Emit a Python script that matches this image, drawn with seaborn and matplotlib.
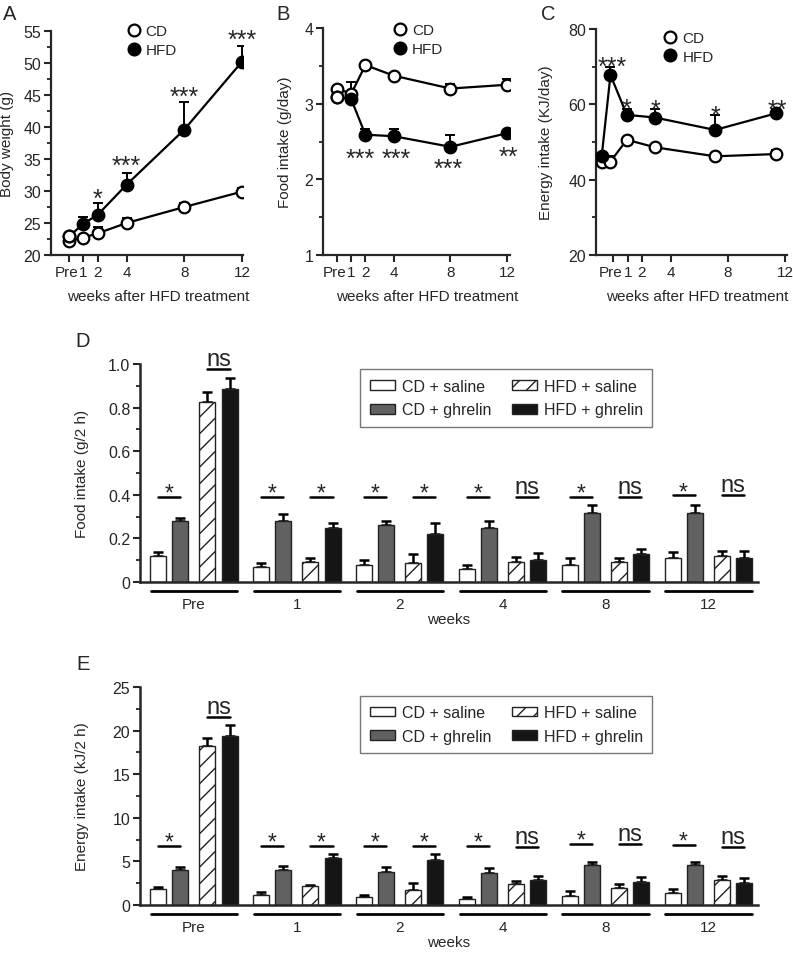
import numpy as np
import pandas as pd
import seaborn as sns
import matplotlib.pyplot as plt
import matplotlib.transforms as mtrans
from matplotlib.patches import Patch
from matplotlib.lines import Line2D

sns.set_style("ticks")
plt.rcParams["font.family"] = ["Liberation Sans", "DejaVu Sans"]

# ---------------- data: panels A-C ----------------
week_ticks = [0, 1, 2, 4, 8, 12]
week_labels = ["Pre", "1", "2", "4", "8", "12"]

# A: body weight (g)
bw_cd = [22.2, 22.7, 23.4, 25.0, 27.5, 29.9]
bw_cd_err = [0.3, 0.3, 1.0, 0.8, 0.7, 0.6]
bw_hfd = [22.9, 24.9, 26.3, 31.0, 39.6, 50.2]
bw_hfd_err = [0.3, 1.0, 1.8, 1.8, 4.3, 2.5]

# B: food intake (g/day)
fi_cd = [3.20, 3.13, 3.51, 3.37, 3.20, 3.25]
fi_cd_err = [0.03, 0.16, 0.03, 0.03, 0.06, 0.07]
fi_hfd = [3.09, 3.06, 2.59, 2.57, 2.43, 2.61]
fi_hfd_err = [0.03, 0.05, 0.08, 0.10, 0.16, 0.03]

# C: energy intake (KJ/day), points drawn slightly off the ticks in the original
ei_weeks = [-0.81, -0.2, 0.94, 2.9, 7.1, 11.35]
ei_cd = [44.6, 44.8, 50.6, 48.6, 46.2, 46.8]
ei_cd_err = [0.5, 1.5, 0.5, 0.5, 0.5, 1.2]
ei_hfd = [46.3, 67.8, 57.2, 56.5, 53.2, 57.6]
ei_hfd_err = [0.5, 2.0, 1.6, 2.3, 4.0, 1.2]

# ---------------- data: panels D-E ----------------
groups = ["Pre", "1", "2", "4", "8", "12"]
series = ["CD + saline", "CD + ghrelin", "HFD + saline", "HFD + ghrelin"]

d_cd_sal = [0.119, 0.069, 0.079, 0.061, 0.079, 0.110]
d_cd_sal_err = [0.018, 0.020, 0.020, 0.015, 0.032, 0.027]
d_cd_ghr = [0.278, 0.282, 0.260, 0.249, 0.318, 0.316]
d_cd_ghr_err = [0.015, 0.029, 0.018, 0.033, 0.033, 0.035]
d_hfd_sal = [0.824, 0.092, 0.087, 0.092, 0.092, 0.118]
d_hfd_sal_err = [0.046, 0.018, 0.040, 0.021, 0.018, 0.024]
d_hfd_ghr = [0.885, 0.247, 0.221, 0.099, 0.127, 0.110]
d_hfd_ghr_err = [0.049, 0.025, 0.049, 0.034, 0.026, 0.030]
d_sig = [["*", "ns"], ["*", "*"], ["*", "*"], ["*", "ns"], ["*", "ns"], ["*", "ns"]]
d_sig_y = [[0.389, 0.977], [0.389, 0.389], [0.389, 0.389], [0.389, 0.389], [0.389, 0.389], [0.397, 0.397]]

e_cd_sal = [1.84, 1.15, 0.96, 0.69, 1.00, 1.34]
e_cd_sal_err = [0.26, 0.38, 0.19, 0.23, 0.65, 0.54]
e_cd_ghr = [4.06, 4.06, 3.75, 3.64, 4.60, 4.60]
e_cd_ghr_err = [0.30, 0.44, 0.58, 0.57, 0.38, 0.30]
e_hfd_sal = [18.2, 2.2, 1.76, 2.37, 1.91, 2.90]
e_hfd_sal_err = [1.0, 0.1, 0.77, 0.43, 0.46, 0.47]
e_hfd_ghr = [19.4, 5.36, 5.17, 2.90, 2.68, 2.53]
e_hfd_ghr_err = [1.2, 0.50, 0.69, 0.43, 0.52, 0.57]
e_sig = d_sig
e_sig_y = [[6.74, 21.55], [6.74, 6.74], [6.74, 6.74], [6.74, 6.62], [7.0, 7.0], [6.9, 6.62]]

# ---------------- figure ----------------
W, H = 793, 954
fig = plt.figure(figsize=(W / 100, H / 100), dpi=100)


def add_ax(x0, y0, x1, y1):
    return fig.add_axes([x0 / W, 1 - y1 / H, (x1 - x0) / W, (y1 - y0) / H])


def mark(ax, x, y, s, size=18):
    # place so the glyph's visual centre lands on (x, y)
    k = 0.57 if "*" in s else 0.26
    ax.annotate(s, (x, y), xytext=(0, -k * size), textcoords="offset points",
                ha="center", va="baseline", fontsize=size, annotation_clip=False)


def line_panel(ax, xs, cd, cd_err, hfd, hfd_err, hfd_pre_open):
    z = np.zeros(len(xs))
    ax.errorbar(xs, cd, yerr=[z, cd_err], fmt="none", ecolor="black",
                elinewidth=1.4, capsize=3.5, capthick=1.4, zorder=1)
    ax.errorbar(xs, hfd, yerr=[z, hfd_err], fmt="none", ecolor="black",
                elinewidth=1.4, capsize=3.5, capthick=1.4, zorder=1)
    sns.lineplot(x=xs, y=cd, color="black", lw=1.6, ax=ax, zorder=2)
    sns.lineplot(x=xs, y=hfd, color="black", lw=1.6, ax=ax, zorder=2)
    sns.scatterplot(x=xs, y=cd, s=70, color="white", edgecolor="black",
                    linewidth=1.6, ax=ax, zorder=3)
    sns.scatterplot(x=xs, y=hfd, s=70, color="black", edgecolor="black",
                    linewidth=1.6, ax=ax, zorder=4)
    if hfd_pre_open:
        sns.scatterplot(x=xs[:1], y=hfd[:1], s=70, color="white", edgecolor="black",
                        linewidth=1.6, ax=ax, zorder=5)
    sns.despine(ax=ax)
    for sp in ("left", "bottom"):
        ax.spines[sp].set_linewidth(1.6)
    ax.set_xticks(week_ticks, week_labels)
    ax.tick_params(which="major", width=1.5, length=5, labelsize=11.5, pad=2)
    ax.tick_params(axis="x", labelsize=11)
    ax.tick_params(which="minor", width=1.3, length=3)
    # nudge "Pre" left so it does not run into "1"
    pre = ax.get_xticklabels()[0]
    pre.set_transform(pre.get_transform() + mtrans.ScaledTranslation(-2.5 / 100, 0, fig.dpi_scale_trans))
    ax.set_xlabel("weeks after HFD treatment", fontsize=11)
    handles = [Line2D([], [], ls="none", marker="o", ms=8.5, mfc="white", mec="black", mew=1.6),
               Line2D([], [], ls="none", marker="o", ms=8.5, mfc="black", mec="black", mew=1.6)]
    return handles


# A
axA = add_ax(51, 32, 243, 256)
h = line_panel(axA, week_ticks, bw_cd, bw_cd_err, bw_hfd, bw_hfd_err, True)
axA.set_xlim(-1.25, 12.07)
axA.set_ylim(20, 55)
axA.set_yticks(range(20, 56, 5))
axA.set_yticks(np.arange(22.5, 55, 5), minor=True)
axA.set_ylabel("Body weight (g)", fontsize=11)
axA.yaxis.set_label_coords(-0.193, 0.5)
axA.xaxis.set_label_coords(0.56, -0.15)
axA.legend(h, ["CD", "HFD"], loc="upper left", bbox_to_anchor=(0.39, 1.03), frameon=False,
           fontsize=11, handlelength=1.0, handletextpad=0.3, labelspacing=0.3, borderpad=0, borderaxespad=0)
for x, y, s in [(2, 29.9, "*"), (4, 35.0, "***"), (8, 45.9, "***"), (12, 54.8, "***")]:
    mark(axA, x, y, s)

# B
axB = add_ax(323, 29, 510, 256)
h = line_panel(axB, week_ticks, fi_cd, fi_cd_err, fi_hfd, fi_hfd_err, True)
axB.set_xlim(-0.99, 12.2)
axB.set_ylim(1, 4)
axB.set_yticks([1, 2, 3, 4])
axB.set_yticks([1.5, 2.5, 3.5], minor=True)
axB.set_ylabel("Food intake (g/day)", fontsize=11)
axB.yaxis.set_label_coords(-0.166, 0.5)
axB.xaxis.set_label_coords(0.556, -0.15)
axB.legend(h, ["CD", "HFD"], loc="upper left", bbox_to_anchor=(0.37, 1.02), frameon=False,
           fontsize=11, handlelength=1.0, handletextpad=0.3, labelspacing=0.3, borderpad=0, borderaxespad=0)
for x, y, s in [(1.65, 2.37, "***"), (4.15, 2.37, "***"), (7.87, 2.23, "***"), (12.1, 2.39, "**")]:
    mark(axB, x, y, s)

# C
axC = add_ax(596, 30, 787, 256)
h = line_panel(axC, ei_weeks, ei_cd, ei_cd_err, ei_hfd, ei_hfd_err, False)
axC.set_xlim(-1.21, 12.12)
axC.set_ylim(20, 80)
axC.set_yticks([20, 40, 60, 80])
axC.set_yticks([30, 50, 70], minor=True)
axC.set_ylabel("Energy intake (KJ/day)", fontsize=11)
axC.yaxis.set_label_coords(-0.223, 0.5)
axC.xaxis.set_label_coords(0.53, -0.15)
axC.legend(h, ["CD", "HFD"], loc="upper left", bbox_to_anchor=(0.35, 0.99), frameon=False,
           fontsize=11, handlelength=1.0, handletextpad=0.3, labelspacing=0.3, borderpad=0, borderaxespad=0)
for x, y, s in [(-0.11, 71.8, "***"), (0.94, 60.7, "*"), (2.91, 60.5, "*"), (7.1, 58.8, "*"), (11.42, 60.4, "**")]:
    mark(axC, x, y, s)

# ---------------- bar panels ----------------
offsets = [-0.35, -0.136, 0.13, 0.346]
bar_w = 0.156
fills = ["white", "#616161", "white", "#151515"]
hatches = ["", "", "//", ""]
plt.rcParams["hatch.linewidth"] = 1.0


def bar_panel(ax, vals, errs, sig, sig_y, ymax, yticks, ylabels, yminor, ylabel, leg_top):
    n = len(groups)
    for k in range(4):
        pos = np.arange(n) + offsets[k]
        sns.barplot(x=pos, y=vals[k], native_scale=True, width=bar_w, color=fills[k],
                    saturation=1, edgecolor="#222222", linewidth=1.0, hatch=hatches[k],
                    errorbar=None, ax=ax, zorder=2)
        ax.errorbar(pos, vals[k], yerr=[np.zeros(n), errs[k]], fmt="none", ecolor="black",
                    elinewidth=1.8, capsize=3.3, capthick=1.8, zorder=1)
    ax.set_xlim(-0.525, 5.48)
    ax.set_ylim(0, ymax)
    ax.set_yticks(yticks, ylabels)
    ax.set_yticks(yminor, minor=True)
    ax.set_ylabel(ylabel, fontsize=11)
    ax.yaxis.set_label_coords(-0.083, 0.5)
    ax.set_xlabel("")
    sns.despine(ax=ax)
    for sp in ("left", "bottom"):
        ax.spines[sp].set_linewidth(1.8)
    ax.tick_params(axis="x", bottom=False, labelbottom=False)
    ax.tick_params(axis="y", which="major", width=1.5, length=5, labelsize=11.5, pad=2)
    ax.tick_params(axis="y", which="minor", width=1.3, length=3)

    trans = mtrans.blended_transform_factory(ax.transData, ax.transAxes)
    for g, name in enumerate(groups):
        ax.plot([g - 0.42, g + 0.42], [-0.043, -0.043], color="black", lw=2.0,
                transform=trans, clip_on=False)
        ax.text(g, -0.1, name, transform=trans, ha="center", va="center", fontsize=11)
        for p in range(2):
            xa = g + offsets[2 * p]
            xb = g + offsets[2 * p + 1]
            y = sig_y[g][p]
            s = sig[g][p]
            ax.plot([xa, xb], [y, y], color="black", lw=1.8)
            fs = 17 if s == "ns" else 16.5
            k = 0.26 if s == "ns" else 0.57
            ax.annotate(s, ((xa + xb) / 2, y), xytext=(0, 7.5 - k * fs),
                        textcoords="offset points", ha="center", va="baseline", fontsize=fs)
    ax.text(0.5, -0.17, "weeks", transform=ax.transAxes, ha="center", va="center", fontsize=11)

    handles = [Patch(facecolor=fills[k], edgecolor="#222222", hatch=hatches[k], linewidth=1.0)
               for k in range(4)]
    leg = ax.legend(handles, series, ncol=2, loc="upper left", bbox_to_anchor=(0.356, leg_top),
                    fontsize=11.5, frameon=True, fancybox=False, edgecolor="#555555",
                    handlelength=1.6, handleheight=0.55, handletextpad=0.4, columnspacing=1.3,
                    labelspacing=0.55, borderpad=0.6, borderaxespad=0)
    leg.get_frame().set_linewidth(1.0)


axD = add_ax(140, 365, 758, 583)
bar_panel(axD,
          [d_cd_sal, d_cd_ghr, d_hfd_sal, d_hfd_ghr],
          [d_cd_sal_err, d_cd_ghr_err, d_hfd_sal_err, d_hfd_ghr_err],
          d_sig, d_sig_y, 1.0,
          [0, 0.2, 0.4, 0.6, 0.8, 1.0], ["0", "0.2", "0.4", "0.6", "0.8", "1.0"],
          np.arange(0.1, 1.0, 0.2), "Food intake (g/2 h)", 0.977)

axE = add_ax(140, 688, 758, 906)
bar_panel(axE,
          [e_cd_sal, e_cd_ghr, e_hfd_sal, e_hfd_ghr],
          [e_cd_sal_err, e_cd_ghr_err, e_hfd_sal_err, e_hfd_ghr_err],
          e_sig, e_sig_y, 25,
          [0, 5, 10, 15, 20, 25], ["0", "5", "10", "15", "20", "25"],
          np.arange(2.5, 25, 5), "Energy intake (kJ/2 h)", 0.961)

# panel letters
for x, y, s in [(10, 15, "A"), (283, 14, "B"), (548, 14, "C"), (83, 342, "D"), (83, 665, "E")]:
    fig.text(x / W, 1 - y / H, s, fontsize=14.5, ha="center", va="center")

fig.savefig("out.png", dpi=100)
